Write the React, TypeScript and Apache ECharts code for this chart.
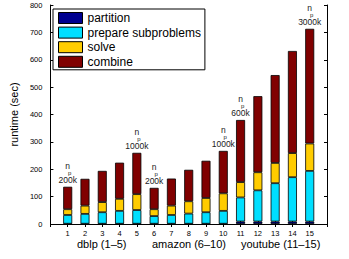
import React, { useEffect, useRef } from "react";
import * as echarts from "echarts";

const runs = ["1", "2", "3", "4", "5", "6", "7", "8", "9", "10", "11", "12", "13", "14", "15"];
const partition = [1, 1, 1, 1, 1, 1, 1, 1, 1, 1, 9, 9, 9, 9, 9];
const prepare = [32, 36, 42, 47, 50, 28, 32, 37, 42, 47, 88, 114, 140, 162, 185];
const solve = [21, 30, 37, 44, 58, 25, 34, 45, 52, 64, 56, 66, 74, 88, 100];
const combine = [82, 98, 114, 132, 151, 78, 99, 115, 136, 155, 227, 278, 321, 373, 419];
const npLabels = ["200k", "", "", "", "1000k", "200k", "", "", "", "1000k", "600k", "", "", "", "3000k"];
const groups = ["dblp (1\u20135)", "amazon (6\u201310)", "youtube (11\u201315)"];
const yTicks = { min: 0, max: 800, interval: 100 };

const FONT = "Liberation Sans, Arial, Helvetica, sans-serif";

export default function App() {
  const ref = useRef<HTMLDivElement>(null);
  useEffect(() => {
    document.body.style.margin = "0";
    const chart = echarts.init(ref.current!, null, { renderer: "svg" });
    const xCats = ["", ...runs, " "];
    const pad = (arr: any[]) => ["-", ...arr, "-"];
    const barBase = {
      type: "bar",
      stack: "total",
      barWidth: 9,
      itemStyle: { borderColor: "#000", borderWidth: 0.8 },
    };
    const combineData = pad(
      combine.map((v, i) =>
        npLabels[i]
          ? {
              value: v,
              label: {
                show: true,
                position: "top",
                distance: 2,
                formatter: "{n|n}\n{s|p}\n{v|" + npLabels[i] + "}",
                rich: {
                  n: { fontSize: 8.5, lineHeight: 8.5, color: "#222", fontFamily: FONT },
                  s: { fontSize: 6, lineHeight: 6, padding: [0, 0, 0, 4], color: "#222", fontFamily: FONT },
                  v: { fontSize: 8.5, lineHeight: 9, color: "#222", fontFamily: FONT },
                },
              },
            }
          : v
      )
    );
    const axisLine = { show: true, lineStyle: { color: "#000", width: 1 } };
    chart.setOption({
      animation: false,
      textStyle: { fontFamily: FONT },
      grid: { left: 49, right: 22, top: 5, bottom: 35, containLabel: false },
      legend: {
        orient: "vertical",
        left: 53,
        top: 9,
        padding: [3, 4, 2, 5],
        borderColor: "#000",
        borderWidth: 1,
        backgroundColor: "#fff",
        itemWidth: 24,
        itemHeight: 11,
        itemGap: 2.6,
        icon: "rect",
        itemStyle: { borderColor: "#000", borderWidth: 1 },
        textStyle: { fontSize: 12, lineHeight: 12, color: "#000", fontFamily: FONT },
        data: ["partition", "prepare subproblems", "solve", "combine"],
      },
      xAxis: [
        {
          type: "category",
          data: xCats,
          boundaryGap: false,
          position: "bottom",
          axisLine,
          axisTick: { show: true, inside: true, length: 3, interval: 0, lineStyle: { color: "#000" } },
          axisLabel: { interval: 0, fontSize: 7.5, color: "#000", margin: 5, fontFamily: FONT },
          splitLine: { show: false },
        },
        {
          type: "category",
          data: xCats,
          boundaryGap: false,
          position: "top",
          axisLine,
          axisTick: { show: true, inside: true, length: 3, interval: 0, lineStyle: { color: "#000" } },
          axisLabel: { show: false },
          splitLine: { show: false },
        },
      ],
      yAxis: [
        {
          type: "value",
          ...yTicks,
          position: "left",
          name: "runtime (sec)",
          nameLocation: "middle",
          nameGap: 23,
          nameTextStyle: { fontSize: 11, color: "#000", fontFamily: FONT },
          axisLine,
          axisTick: { show: true, inside: true, length: 3, lineStyle: { color: "#000" } },
          axisLabel: { fontSize: 7.5, color: "#000", margin: 8, fontFamily: FONT },
          splitLine: { show: false },
        },
        {
          type: "value",
          ...yTicks,
          position: "right",
          axisLine,
          axisTick: { show: true, inside: true, length: 3, lineStyle: { color: "#000" } },
          axisLabel: { show: false },
          splitLine: { show: false },
        },
      ],
      series: [
        { ...barBase, name: "partition", data: pad(partition), itemStyle: { ...barBase.itemStyle, color: "#00008F" } },
        { ...barBase, name: "prepare subproblems", data: pad(prepare), itemStyle: { ...barBase.itemStyle, color: "#00DFFF" } },
        { ...barBase, name: "solve", data: pad(solve), itemStyle: { ...barBase.itemStyle, color: "#FFCC00" } },
        { ...barBase, name: "combine", data: combineData, itemStyle: { ...barBase.itemStyle, color: "#800000" } },
      ],
      graphic: [
        { type: "text", left: 77, top: 238, style: { text: groups[0], fontSize: 11, fill: "#000", fontFamily: FONT } },
        { type: "text", left: 152, top: 238, style: { text: groups[1], fontSize: 11, fill: "#000", fontFamily: FONT } },
        { type: "text", left: 241, top: 238, style: { text: groups[2], fontSize: 11, fill: "#000", fontFamily: FONT } },
      ],
    });
    return () => chart.dispose();
  }, []);
  return <div ref={ref} style={{ width: 349, height: 259 }} />;
}
